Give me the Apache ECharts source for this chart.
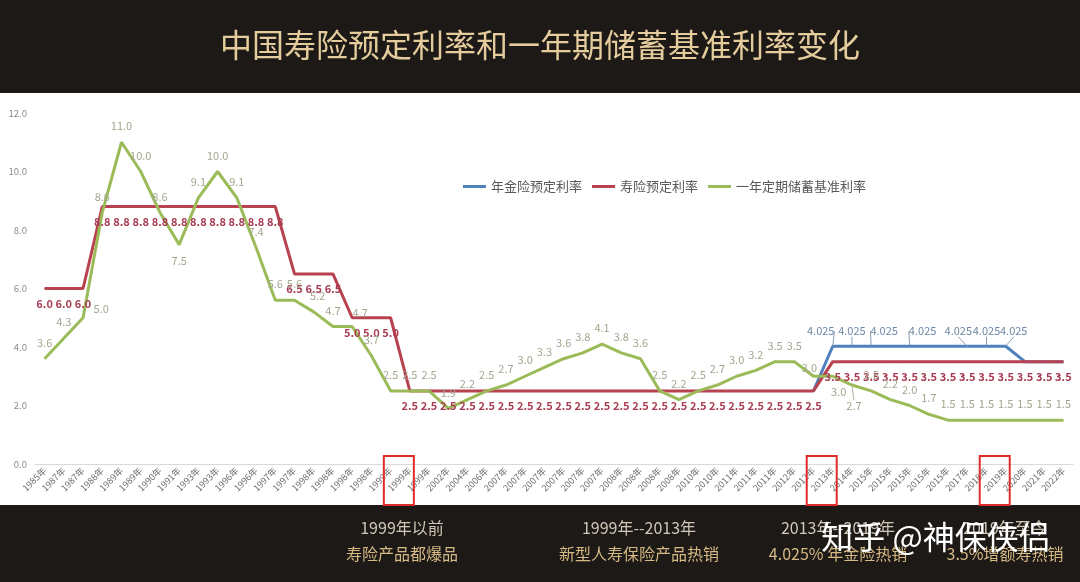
<!DOCTYPE html>
<html><head><meta charset="utf-8">
<script src="https://cdn.jsdelivr.net/npm/echarts@6/dist/echarts.min.js"></script>
<style>html,body{margin:0;padding:0;background:#fff}#c{width:1080px;height:582px}</style>
</head><body><div id="c"></div>
<script>
const categories = ['1985年','1987年','1987年','1988年','1989年','1989年','1990年','1991年','1993年','1993年','1996年','1996年','1997年','1997年','1998年','1998年','1998年','1998年','1999年','1999年','1999年','2002年','2004年','2006年','2007年','2007年','2007年','2007年','2007年','2007年','2008年','2008年','2008年','2008年','2010年','2010年','2011年','2011年','2011年','2012年','2012年','2013年','2014年','2015年','2015年','2015年','2015年','2015年','2017年','2018年','2019年','2020年','2021年','2022年'];
const annuityRate = [null,null,null,null,null,null,null,null,null,null,null,null,null,null,null,null,null,null,null,null,null,null,null,null,null,null,null,null,null,null,null,null,null,null,null,null,null,null,null,null,2.5,4.025,4.025,4.025,4.025,4.025,4.025,4.025,4.025,4.025,4.025,3.5,3.5,3.5];
const lifeRate = [6.0,6.0,6.0,8.8,8.8,8.8,8.8,8.8,8.8,8.8,8.8,8.8,8.8,6.5,6.5,6.5,5.0,5.0,5.0,2.5,2.5,2.5,2.5,2.5,2.5,2.5,2.5,2.5,2.5,2.5,2.5,2.5,2.5,2.5,2.5,2.5,2.5,2.5,2.5,2.5,2.5,3.5,3.5,3.5,3.5,3.5,3.5,3.5,3.5,3.5,3.5,3.5,3.5,3.5];
const depositRate = [3.6,4.3,5.0,8.6,11.0,10.0,8.6,7.5,9.1,10.0,9.1,7.4,5.6,5.6,5.2,4.7,4.7,3.7,2.5,2.5,2.5,1.9,2.2,2.5,2.7,3.0,3.3,3.6,3.8,4.1,3.8,3.6,2.5,2.2,2.5,2.7,3.0,3.2,3.5,3.5,3.0,3.0,2.7,2.5,2.2,2.0,1.7,1.5,1.5,1.5,1.5,1.5,1.5,1.5];
const seriesNames = ['年金险预定利率','寿险预定利率','一年定期储蓄基准利率'];
const titleText = '中国寿险预定利率和一年期储蓄基准利率变化';
const footerYears = ['1999年以前','1999年--2013年','2013年--2019年','2019年至今'];
const footerNotes = ['寿险产品都爆品','新型人寿保险产品热销','4.025% 年金险热销','3.5%增额寿热销'];
const watermark = '知乎 @神保侠侣';
const boxedIndices = [19, 41, 50];
const annuityLabelled = [41,42,43,45,48,49,50];

// label layout tweaks (not data)
const annuityShift = {41:[-12,-6],42:[0,-6],43:[13,-6],45:[13,-6],48:[-9,-6],49:[0,-6],50:[8,-6]};
const depositPos = {2:'right',7:'bottom',41:'bottom',42:'bottom'};
const depositShift = {2:[0,-9],14:[4,0],16:[8,2],40:[-4,8],41:[6,0],42:[2,5]};
const depositGuide = [42];

const FONT = '"Noto Sans CJK SC","Noto Sans",sans-serif';
const BLUE='#4f81bd', RED='#b8424f', GREEN='#9bbb59';

const chart = echarts.init(document.getElementById('c'));
const fmt1 = v => (v==null?'':Number(v).toFixed(1));

const option = {
  backgroundColor:'#ffffff',
  animation:false,
  textStyle:{fontFamily:FONT},
  grid:{left:35,right:7,top:113,bottom:118,containLabel:false},
  legend:{
    left:463, top:180, padding:0, itemWidth:23, itemHeight:3, itemGap:10, icon:'rect',
    textStyle:{fontSize:13,color:'#595959',fontFamily:FONT},
    data:seriesNames
  },
  xAxis:{
    type:'category', data:categories, boundaryGap:true,
    axisLine:{lineStyle:{color:'#d9d9d9'}}, axisTick:{show:false},
    axisLabel:{rotate:45, interval:0, fontSize:9, color:'#6e6e6e', margin:5, fontFamily:FONT}
  },
  yAxis:{
    type:'value', min:0, max:12, interval:2,
    axisLine:{show:false}, axisTick:{show:false}, splitLine:{show:false},
    axisLabel:{fontSize:9.5, color:'#8a8a8a', margin:8, formatter:v=>v.toFixed(1)}
  },
  series:[
    {
      name:seriesNames[0], type:'line', symbol:'circle', symbolSize:1,
      itemStyle:{color:BLUE}, lineStyle:{width:3,color:BLUE},
      data:annuityRate.map((v,i)=>({value:v,label:{show:annuityLabelled.indexOf(i)>=0}})),
      label:{position:'top',distance:3,fontSize:11,color:'#6f87a6',formatter:p=>String(p.value)},
      labelLine:{show:true,lineStyle:{color:'#8a9bb3',width:1}},
      labelLayout:p=>{const s=annuityShift[p.dataIndex];return s?{dx:s[0],dy:s[1]}:{};}
    },
    {
      name:seriesNames[1], type:'line', symbol:'circle', symbolSize:1,
      itemStyle:{color:RED}, lineStyle:{width:3,color:RED},
      data:lifeRate,
      label:{show:true,position:'bottom',distance:9,fontSize:11,fontWeight:'bold',color:'#a83c52',formatter:p=>fmt1(p.value)}
    },
    {
      name:seriesNames[2], type:'line', symbol:'circle', symbolSize:1,
      itemStyle:{color:GREEN}, lineStyle:{width:3,color:GREEN},
      data:depositRate.map((v,i)=>{
        const o={value:v};
        if(depositPos[i]) o.label={position:depositPos[i]};
        o.labelLine={show:depositGuide.indexOf(i)>=0,lineStyle:{color:'#b0b5a0',width:1}};
        return o;
      }),
      label:{show:true,position:'top',distance:10,fontSize:11,color:'#a2a78f',formatter:p=>fmt1(p.value)},
      labelLayout:p=>{const s=depositShift[p.dataIndex];return s?{dx:s[0],dy:s[1]}:{};}
    }
  ],
  graphic:[]
};
chart.setOption(option);

const g = [
  {id:'topband',type:'rect',left:0,top:0,z:-10,shape:{width:1080,height:93},style:{fill:'#1c1916'}},
  {id:'botband',type:'rect',left:0,top:505,z:-10,shape:{width:1080,height:77},style:{fill:'#1c1916'}},
  {id:'title',type:'text',x:540,y:45,z:5,style:{text:titleText,fill:'#e4cc9c',font:'32px '+FONT,textAlign:'center',textVerticalAlign:'middle'}}
];
const footX = [402,639,838,1005];
footerYears.forEach((t,i)=>{
  g.push({id:'fy'+i,type:'text',x:footX[i],y:528,z:5,style:{text:t,fill:'#cfc6b5',font:'16px '+FONT,textAlign:'center',textVerticalAlign:'middle'}});
  g.push({id:'fn'+i,type:'text',x:footX[i],y:554,z:5,style:{text:footerNotes[i],fill:'#d6b985',font:'16px '+FONT,textAlign:'center',textVerticalAlign:'middle'}});
});
g.push({id:'wm',type:'text',x:936,y:537,z:8,style:{text:watermark,fill:'#ffffff',font:'32px '+FONT,textAlign:'center',textVerticalAlign:'middle',shadowBlur:4,shadowColor:'rgba(0,0,0,0.6)'}});
boxedIndices.forEach((idx,k)=>{
  const px = chart.convertToPixel({xAxisIndex:0}, idx);
  g.push({id:'box'+k,type:'rect',x:px-26,y:456,z:6,shape:{width:30,height:49},style:{fill:'none',stroke:'#e12b2b',lineWidth:2}});
});
chart.setOption({graphic:g});
</script>
</body></html>
